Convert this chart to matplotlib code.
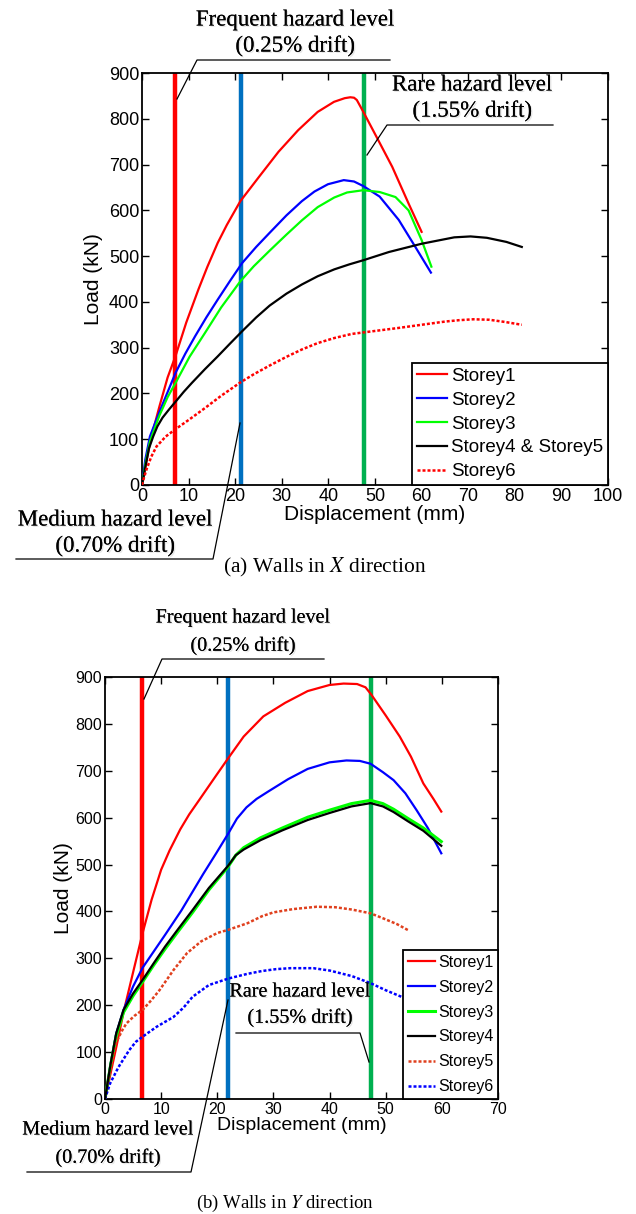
import matplotlib
matplotlib.use("Agg")
import matplotlib.pyplot as plt
from matplotlib.lines import Line2D
import matplotlib.patheffects as pe

plt.rcParams["mathtext.fontset"] = "stix"

# ---------------- data: (a) walls in X direction ----------------
xa_s1 = [0, 1.0, 2.0, 3.75, 5.5, 7.2, 9.5, 12.1, 14.0, 16.25, 18.2, 21.1, 25.1, 29.3, 33.5, 37.7, 41.2, 43.5, 44.7, 45.5, 46.1, 47.5, 50.3, 53.7, 57.2, 60.0]
ya_s1 = [0, 55, 105, 172, 235, 282, 355, 427, 476, 529, 568, 620, 673, 728, 775, 815, 837, 845, 847, 846, 841, 815, 761, 695, 615, 553]
xa_s2 = [0, 0.7, 1.7, 3.75, 5.5, 7.2, 9.3, 11.4, 13.8, 16.25, 18.9, 21.5, 24.5, 27.4, 31.0, 34.3, 37.0, 39.9, 43.3, 45.5, 47.5, 51.0, 55.1, 58.6, 62.0]
ya_s2 = [0, 55, 106, 160, 203, 245, 287, 325, 366, 405, 446, 485, 520, 551, 589, 620, 641, 657, 666, 663, 653, 630, 579, 521, 464]
xa_s3 = [0, 0.8, 1.7, 3.75, 5.5, 7.2, 10.2, 13.5, 17.0, 21.1, 24.0, 27.4, 31.0, 34.3, 37.7, 41.25, 44.0, 47.5, 51.0, 54.4, 57.2, 60.0, 62.1]
ya_s3 = [0, 50, 95, 152, 192, 223, 280, 332, 388, 445, 478, 512, 547, 578, 607, 628, 639, 644, 640, 629, 600, 535, 477]
xa_s4 = [0, 0.6, 1.5, 2.4, 3.3, 4.4, 5.8, 7.2, 9.0, 10.7, 13.5, 16.25, 18.9, 21.5, 24.5, 27.4, 31.0, 34.3, 37.7, 41.25, 44.5, 47.5, 53.0, 60.0, 63.5, 67.0, 70.5, 74.0, 78.2, 81.5]
ya_s4 = [0, 33, 80, 106, 128, 147, 165, 182, 204, 223, 253, 281, 309, 336, 366, 392, 418, 438, 456, 471, 482, 491, 509, 527, 534, 541, 543, 540, 531, 520]
xa_s6 = [0, 0.4, 1.0, 2.0, 3.1, 5.1, 7.2, 10.0, 13.5, 17.0, 21.1, 24.0, 27.4, 31.0, 34.3, 37.7, 41.25, 45.0, 49.6, 55.0, 60.0, 65.0, 68.0, 71.1, 74.5, 78.0, 81.5]
ya_s6 = [0, 15, 35, 62, 84, 106, 122, 142, 168, 195, 224, 242, 261, 280, 296, 310, 321, 330, 336, 343, 350, 357, 360, 362, 361, 356, 350]

# ---------------- data: (b) walls in Y direction ----------------
xb_s1 = [0, 1.0, 2.0, 3.3, 5.0, 6.7, 8.3, 10.0, 11.5, 13.4, 15.0, 16.8, 19.8, 21.9, 24.7, 28.2, 32.1, 36.1, 40.0, 42.5, 44.9, 46.4, 47.4, 50.0, 52.5, 54.5, 56.7, 58.5, 59.9]
yb_s1 = [0, 55, 110, 185, 270, 354, 425, 489, 530, 575, 607, 638, 690, 726, 773, 816, 845, 870, 883, 886, 885, 878, 863, 818, 773, 730, 673, 640, 613]
xb_s2 = [0, 1.0, 2.0, 3.3, 5.0, 6.7, 8.7, 10.7, 13.6, 15.5, 17.5, 19.8, 21.9, 23.5, 25.2, 27.0, 29.1, 32.6, 36.1, 40.0, 43.0, 45.4, 47.3, 49.5, 51.4, 53.5, 55.5, 57.5, 59.9]
yb_s2 = [0, 75, 140, 190, 240, 280, 315, 350, 402, 440, 480, 524, 565, 598, 622, 640, 656, 682, 704, 718, 722, 721, 715, 697, 680, 652, 616, 578, 524]
xb_s3 = [0, 1.0, 2.0, 3.3, 5.0, 6.7, 8.7, 10.7, 13.0, 15.6, 18.5, 21.9, 23.3, 24.7, 27.7, 31.6, 36.1, 40.0, 43.9, 47.3, 49.5, 51.4, 54.0, 56.7, 59.9]
yb_s3 = [0, 72, 135, 185, 220, 250, 286, 320, 357, 398, 446, 495, 520, 536, 557, 578, 601, 616, 630, 637, 630, 618, 598, 578, 549]
xb_s4 = [0, 1.0, 2.0, 3.3, 5.0, 6.7, 8.7, 10.7, 13.0, 15.6, 18.5, 21.9, 23.3, 24.7, 27.7, 31.6, 36.1, 40.0, 43.9, 47.3, 49.5, 51.4, 54.0, 56.7, 59.9]
yb_s4 = [0, 75, 140, 190, 225, 254, 290, 325, 362, 403, 450, 497, 520, 532, 552, 573, 595, 610, 624, 631, 624, 612, 592, 572, 540]
xb_s5 = [0, 0.5, 0.9, 1.9, 3.0, 3.8, 5.2, 6.7, 8.2, 9.7, 12.2, 14.6, 17.1, 20.0, 22.0, 25.4, 28.0, 30.0, 33.5, 37.7, 41.0, 44.0, 47.3, 49.6, 52.0, 54.0]
yb_s5 = [0, 35, 61, 118, 145, 161, 177, 190, 210, 232, 275, 311, 336, 354, 361, 375, 390, 398, 405, 410, 409, 404, 396, 385, 373, 360]
xb_s6 = [0, 0.4, 0.9, 2.4, 4.3, 5.5, 6.7, 9.2, 12.2, 14.0, 15.6, 18.5, 22.0, 25.4, 28.0, 30.5, 33.0, 37.1, 40.0, 44.0, 47.3, 50.0, 53.4]
yb_s6 = [0, 15, 33, 68, 104, 122, 133, 154, 175, 195, 218, 243, 257, 267, 273, 277, 279, 279, 274, 262, 247, 232, 215]

# hazard levels (displacement, mm)
levels_a = [7.0, 21.3, 47.6]
levels_b = [6.6, 21.9, 47.3]
level_colors = ["#ff0000", "#0070c0", "#00b050"]

labels_a = ["Storey1", "Storey2", "Storey3", "Storey4 & Storey5", "Storey6"]
labels_b = ["Storey1", "Storey2", "Storey3", "Storey4", "Storey5", "Storey6"]

W, H = 636, 1214
fig = plt.figure(figsize=(W / 100, H / 100), dpi=100)
SANS = "Liberation Sans"
SERIF = "Liberation Serif"


def fx(px):
    return px / W


def fy(py):
    return 1 - py / H


def add_axes(l, t, r, b):
    return fig.add_axes([fx(l), fy(b), (r - l) / W, (b - t) / H])


def style_axes(ax, xmax, xstep, tsize):
    ax.set_xlim(0, xmax)
    ax.set_ylim(0, 900)
    ax.set_xticks(range(0, xmax + 1, xstep))
    ax.set_yticks(range(0, 901, 100))
    ax.tick_params(direction="in", top=True, right=True, length=5, width=1,
                   labelsize=tsize, pad=2)
    for lab in ax.get_xticklabels() + ax.get_yticklabels():
        lab.set_fontfamily(SANS)
    for s in ax.spines.values():
        s.set_linewidth(1.3)


shadow = [pe.withSimplePatchShadow(offset=(1.0, -1.0), shadow_rgbFace="0.6", alpha=0.25), pe.Normal()]


def note(lines, cx, ys, size):
    for txt, y in zip(lines, ys):
        fig.text(fx(cx), fy(y), txt, ha="center", va="center", fontsize=size,
                 family=SERIF, path_effects=shadow)


def leader(pts):
    xs = [fx(p[0]) for p in pts]
    ys = [fy(p[1]) for p in pts]
    fig.add_artist(Line2D(xs, ys, color="black", lw=0.9))


dots = (0, (1.2, 0.8))

# ---------------- (a) ----------------
ax1 = add_axes(142, 73, 608, 485)
for xv, c in zip(levels_a, level_colors):
    ax1.axvline(xv, color=c, lw=3.2, zorder=1)
ax1.plot(xa_s1, ya_s1, color="#ff0000", lw=1.6, label=labels_a[0], zorder=3)
ax1.plot(xa_s2, ya_s2, color="#0000ff", lw=1.6, label=labels_a[1], zorder=3)
ax1.plot(xa_s3, ya_s3, color="#00ff00", lw=1.6, label=labels_a[2], zorder=3)
ax1.plot(xa_s4, ya_s4, color="black", lw=1.6, label=labels_a[3], zorder=3)
ax1.plot(xa_s6, ya_s6, color="#ff0000", lw=1.8, ls=dots, label=labels_a[4], zorder=3)
style_axes(ax1, 100, 10, 13)
ax1.set_xlabel("Displacement (mm)", fontsize=15, family=SANS, labelpad=0)
ax1.set_ylabel("Load (kN)", fontsize=15, family=SANS, labelpad=4)
leg1 = ax1.legend(loc="lower right", bbox_to_anchor=(1.0, 0.0), borderaxespad=0,
                  prop={"family": SANS, "size": 13.5}, frameon=True, fancybox=False,
                  edgecolor="black", framealpha=1, handlelength=1.6,
                  handletextpad=0.25, labelspacing=0.36, borderpad=0.25)
leg1.get_frame().set_linewidth(1.3)

note(["Frequent hazard level", "(0.25% drift)"], 295, [20, 46], 16.5)
leader([(390, 60), (197, 60), (177, 99)])
note(["Rare hazard level", "(1.55% drift)"], 472, [85, 111], 16.5)
leader([(553, 125), (387, 125), (367, 155)])
note(["Medium hazard level", "(0.70% drift)"], 115, [520, 546], 16.5)
leader([(16, 559), (213, 559), (240, 423)])
fig.text(fx(325), fy(567), r"(a) Walls in $\mathit{X}$ direction", ha="center", va="center",
         fontsize=15.5, family=SERIF)

# ---------------- (b) ----------------
ax2 = add_axes(105, 677, 498, 1099)
for xv, c in zip(levels_b, level_colors):
    ax2.axvline(xv, color=c, lw=3.2, zorder=1)
ax2.plot(xb_s1, yb_s1, color="#ff0000", lw=1.6, label=labels_b[0], zorder=3)
ax2.plot(xb_s2, yb_s2, color="#0000ff", lw=1.6, label=labels_b[1], zorder=3)
ax2.plot(xb_s3, yb_s3, color="#00ff00", lw=2.2, label=labels_b[2], zorder=3)
ax2.plot(xb_s4, yb_s4, color="black", lw=1.6, label=labels_b[3], zorder=4)
ax2.plot(xb_s5, yb_s5, color="#e0401e", lw=1.8, ls=dots, label=labels_b[4], zorder=3)
ax2.plot(xb_s6, yb_s6, color="#0000ff", lw=1.8, ls=dots, label=labels_b[5], zorder=3)
style_axes(ax2, 70, 10, 11.5)
ax2.set_xlabel("Displacement (mm)", fontsize=14, family=SANS, labelpad=0)
ax2.set_ylabel("Load (kN)", fontsize=15, family=SANS, labelpad=2)
leg2 = ax2.legend(loc="lower right", bbox_to_anchor=(1.0, 0.0), borderaxespad=0,
                  prop={"family": SANS, "size": 11.5}, frameon=True, fancybox=False,
                  edgecolor="black", framealpha=1, handlelength=1.65,
                  handletextpad=0.2, labelspacing=0.62, borderpad=0.3)
leg2.get_frame().set_linewidth(1.3)

note(["Frequent hazard level", "(0.25% drift)"], 243, [618, 646], 14.5)
leader([(324, 659), (162, 659), (144, 699)])
note(["Rare hazard level", "(1.55% drift)"], 300, [992, 1018], 14.5)
leader([(236, 1033), (360, 1033), (369, 1062)])
note(["Medium hazard level", "(0.70% drift)"], 108, [1130, 1158], 14.5)
leader([(27, 1172), (191, 1172), (228, 1000)])
fig.text(fx(285), fy(1203), r"(b) Walls in $\mathit{Y}$ direction", ha="center", va="center",
         fontsize=13.5, family=SERIF)

fig.savefig("out.png", dpi=100)
